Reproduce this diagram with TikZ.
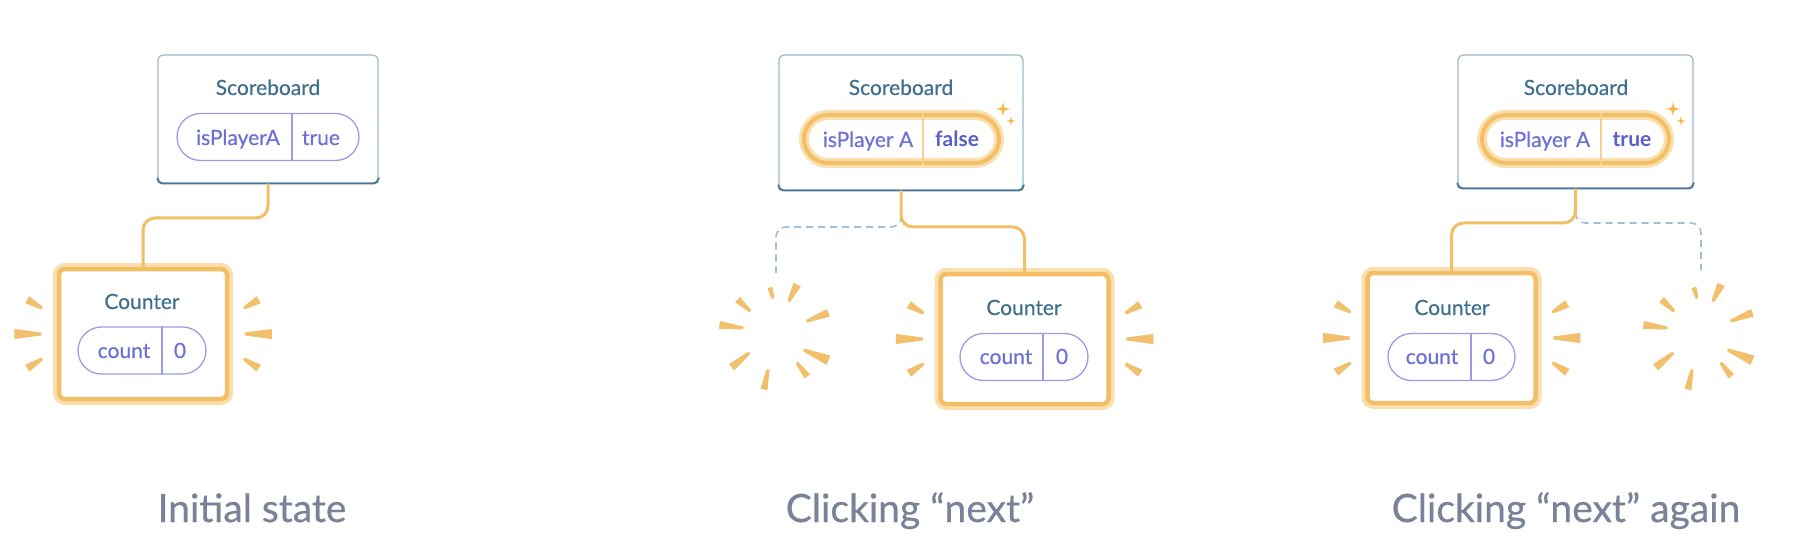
\documentclass[tikz,border=0pt]{standalone}
\usepackage{fontspec}
\setmainfont{Lato}
\newfontfamily\medfont{Lato}[FakeBold=0.5]
\usetikzlibrary{calc}
\definecolor{sbline}{HTML}{9BB8CE}
\definecolor{sbdark}{HTML}{4B7697}
\definecolor{titlec}{HTML}{40708F}
\definecolor{pillc}{HTML}{9A9EE4}
\definecolor{pilltext}{HTML}{6D70D6}
\definecolor{pillbold}{HTML}{5B5FC8}
\definecolor{orangec}{HTML}{F2BF66}
\definecolor{glowc}{HTML}{FADFAF}
\definecolor{divc}{HTML}{F5D193}
\definecolor{rayc}{HTML}{F2C06C}
\definecolor{sparkc}{HTML}{F2B950}
\definecolor{dashc}{HTML}{9DBFD8}
\definecolor{capc}{HTML}{7A8299}
\newcommand\rayw[6]{%
  \path (#1) ++(#2,#3) coordinate (rA) (#1) ++(#4,#5) coordinate (rB);
  \fill[rayc, draw=rayc, line width=1pt, line join=round]
    ($(rA)!1pt!90:(rB)$) -- ($(rA)!1pt!-90:(rB)$) --
    ($(rB)!#6!90:(rA)$) -- ($(rB)!#6!-90:(rA)$) -- cycle;}
\newcommand\siderays[1]{%
  \rayw{#1.west}{-15}{-26}{-29}{-34}{3.5pt}
  \rayw{#1.west}{-16}{0}{-42}{0}{4.5pt}
  \rayw{#1.west}{-15}{25}{-29}{34}{3.5pt}
  \rayw{#1.east}{15}{-26}{29}{-34}{3.5pt}
  \rayw{#1.east}{16}{0}{42}{0}{4.5pt}
  \rayw{#1.east}{15}{25}{29}{34}{3.5pt}}
\newcommand\burst[1]{%
  \rayw{#1}{-2}{-39}{-5}{-49}{2pt}
  \rayw{#1}{14}{-36}{22}{-52}{3.5pt}
  \rayw{#1}{32}{-16}{53}{-24}{3.5pt}
  \rayw{#1}{29}{13}{53}{23}{4.5pt}
  \rayw{#1}{22}{26}{32}{39}{3pt}
  \rayw{#1}{-7}{33}{-11}{52}{3pt}
  \rayw{#1}{-26}{16}{-43}{30}{3.5pt}
  \rayw{#1}{-32}{-9}{-55}{-12}{3.5pt}
  \rayw{#1}{-25}{-26}{-37}{-37}{3pt}}
\newcommand\sparkle[3]{%
  \fill[sparkc, shift={(#1,#2)}] (0,-#3)
    .. controls ({0.12*#3},{-0.12*#3}) .. (#3,0)
    .. controls ({0.12*#3},{0.12*#3}) .. (0,#3)
    .. controls ({-0.12*#3},{0.12*#3}) .. (-#3,0)
    .. controls ({-0.12*#3},{-0.12*#3}) .. (0,-#3) -- cycle;}
\tikzset{
  sbbox/.style={draw=sbline, line width=1.2pt, rounded corners=5pt, fill=white, inner sep=0pt},
  ctbox/.style={draw=orangec, line width=4.5pt, rounded corners=6pt, fill=white,
    minimum width=168pt, minimum height=130pt, inner sep=0pt,
    preaction={draw=glowc, line width=12pt}},
  pill/.style={draw=pillc, line width=1.3pt, rounded corners=23.5pt, minimum height=47pt, inner sep=0pt},
  hpill/.style={draw=orangec, line width=4pt, rounded corners=24pt, minimum height=48pt, inner sep=0pt,
    preaction={draw=glowc, line width=10pt}},
  pdiv/.style={draw=pillc, line width=1.3pt},
  hdiv/.style={draw=divc, line width=1.5pt},
  ttl/.style={text=titlec, anchor=base, inner sep=0pt, font=\medfont\fontsize{21}{24}\selectfont},
  ptxt/.style={text=pilltext, anchor=base, inner sep=0pt, font=\medfont\fontsize{21}{24}\selectfont},
  pbold/.style={text=pillbold, anchor=base, inner sep=0pt, font=\fontsize{21}{24}\selectfont\bfseries},
  captxt/.style={text=capc, anchor=base, inner sep=0pt, font=\medfont\fontsize{39}{46}\selectfont},
  conn/.style={draw=orangec, line width=3pt, rounded corners=12pt},
  dashconn/.style={draw=dashc, line width=1.6pt, dash pattern=on 7pt off 5pt, rounded corners=10pt},
  sbshade/.style={draw=sbdark, line width=1.8pt, rounded corners=5pt}
}
\begin{document}
\begin{tikzpicture}[x=1pt,y=-1pt]
\fill[white] (0,0) rectangle (1796,556);
\useasboundingbox (0,0) rectangle (1796,556);

% ---------- Panel 1 ----------
\coordinate (m1) at (0,218);
\node[sbbox, minimum width=220pt, minimum height=128pt] (sb1) at (268,119) {};
\draw[sbshade] ([yshift=6pt]sb1.south west) -- (sb1.south west) -- (sb1.south east) -- ([yshift=6pt]sb1.south east);
\node[ttl] (sbt1) at (268,95) {Scoreboard};
\node[pill, minimum width=182pt] (p1) at (268,137) {};
\coordinate (d1) at (292,0);
\draw[pdiv] (p1.north -| d1) -- (p1.south -| d1);
\node[ptxt] (k1) at (238,145) {isPlayerA};
\node[ptxt] (v1) at (321,145) {true};
\node[ctbox] (c1) at (143,334) {};
\node[ttl] (ct1) at (142,309) {Counter};
\node[pill, minimum width=128pt] (q1) at (142,350.5) {};
\coordinate (e1) at (162,0);
\draw[pdiv] (q1.north -| e1) -- (q1.south -| e1);
\node[ptxt] (qk1) at (124,358) {count};
\node[ptxt] (qv1) at (180,358) {0};
\draw[conn] (sb1.south) |- (c1.north |- m1) -- (c1.north);
\siderays{c1}
\node[captxt] (cap1) at (252,522) {Initial state};

% ---------- Panel 2 ----------
\coordinate (m2) at (0,227);
\coordinate (g2) at (776,273);
\coordinate (b2) at (775,337);
\node[sbbox, minimum width=244pt, minimum height=135pt] (sb2) at (901,122.5) {};
\draw[sbshade] ([yshift=6pt]sb2.south west) -- (sb2.south west) -- (sb2.south east) -- ([yshift=6pt]sb2.south east);
\node[ttl] (sbt2) at (901,95) {Scoreboard};
\node[hpill, minimum width=195pt] (p2) at (901.5,139) {};
\coordinate (d2) at (923,0);
\draw[hdiv] (p2.north -| d2) -- (p2.south -| d2);
\node[ptxt] (k2) at (868,147) {isPlayer A};
\node[pbold] (v2) at (957,147) {false};
\sparkle{1003}{109}{8}
\sparkle{1011}{121}{5}
\node[ctbox] (c2) at (1024.5,339) {};
\node[ttl] (ct2) at (1024,315) {Counter};
\node[pill, minimum width=128pt] (q2) at (1024,357) {};
\coordinate (e2) at (1043,0);
\draw[pdiv] (q2.north -| e2) -- (q2.south -| e2);
\node[ptxt] (qk2) at (1006,364) {count};
\node[ptxt] (qv2) at (1062,364) {0};
\draw[dashconn] (sb2.south) |- (g2 |- m2) -- (g2);
\draw[conn] (sb2.south) |- (c2.north |- m2) -- (c2.north);
\siderays{c2}
\burst{b2}
\node[captxt] (cap2) at (910,522) {Clicking “next”};

% ---------- Panel 3 ----------
\coordinate (m3) at (0,223);
\coordinate (g3) at (1701,270);
\coordinate (b3) at (1699,337);
\node[sbbox, minimum width=235pt, minimum height=133pt] (sb3) at (1575.5,121.5) {};
\draw[sbshade] ([yshift=6pt]sb3.south west) -- (sb3.south west) -- (sb3.south east) -- ([yshift=6pt]sb3.south east);
\node[ttl] (sbt3) at (1576,95) {Scoreboard};
\node[hpill, minimum width=187pt] (p3) at (1575.5,139) {};
\coordinate (d3) at (1601,0);
\draw[hdiv] (p3.north -| d3) -- (p3.south -| d3);
\node[ptxt] (k3) at (1545,147) {isPlayer A};
\node[pbold] (v3) at (1632,147) {true};
\sparkle{1673}{109}{8}
\sparkle{1681}{121}{5}
\node[ctbox] (c3) at (1451.5,338) {};
\node[ttl] (ct3) at (1452,315) {Counter};
\node[pill, minimum width=127pt] (q3) at (1451.5,357) {};
\coordinate (e3) at (1471,0);
\draw[pdiv] (q3.north -| e3) -- (q3.south -| e3);
\node[ptxt] (qk3) at (1432,364) {count};
\node[ptxt] (qv3) at (1489,364) {0};
\draw[dashconn] (sb3.south) |- (g3 |- m3) -- (g3);
\draw[conn] (sb3.south) |- (c3.north |- m3) -- (c3.north);
\siderays{c3}
\burst{b3}
\node[captxt] (cap3) at (1566,522) {Clicking “next” again};
\end{tikzpicture}
\end{document}
